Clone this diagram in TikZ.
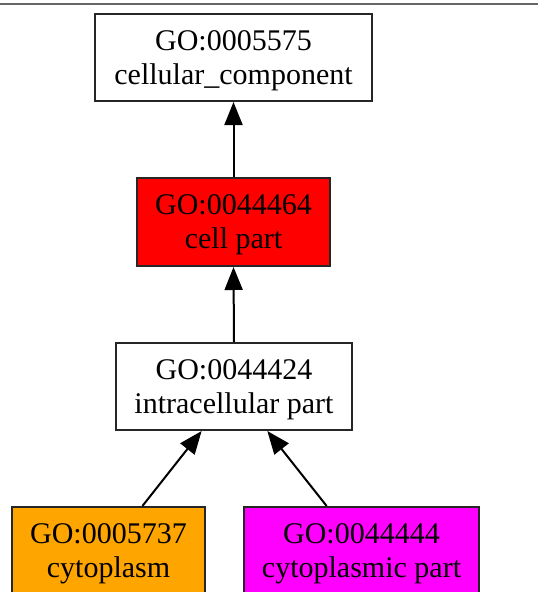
\documentclass[tikz,border=0pt]{standalone}
\usepackage{fontspec}
\setmainfont{Liberation Serif}
\usetikzlibrary{arrows.meta,calc}
\definecolor{goorange}{HTML}{FFA500}
\definecolor{gomagenta}{HTML}{FF00FF}
\definecolor{gored}{HTML}{FF0000}
\newcommand{\gostrut}{\rule{0pt}{26pt}}
\begin{document}
\begin{tikzpicture}[x=1pt,y=-1pt,
  gobox/.style={draw=black!85,line width=2pt,inner sep=0pt,align=center,
    font=\fontsize{30}{34}\selectfont},
  goarrow/.style={line width=2pt,-{Triangle[length=23pt,width=18pt]}}]
\useasboundingbox (0,0) rectangle (538,592);
\fill[white] (0,0) rectangle (538,592);
\coordinate (tl) at (0,4);
\coordinate (tr) at (538,4);
\draw[line width=2pt,black!60] (tl) -- (tr);
\node[gobox,minimum width=277pt,minimum height=87pt] (n1) at (233.5,57.5) {\gostrut GO:0005575\\cellular\_component};
\node[gobox,fill=gored,minimum width=193pt,minimum height=88pt] (n2) at (233.5,222) {\gostrut GO:0044464\\cell part};
\node[gobox,minimum width=236pt,minimum height=87pt] (n3) at (234,386.5) {\gostrut GO:0044424\\intracellular part};
\node[gobox,fill=goorange,minimum width=193pt,minimum height=88pt] (n4) at (108.5,551) {\gostrut GO:0005737\\cytoplasm};
\node[gobox,fill=gomagenta,minimum width=235pt,minimum height=88pt] (n5) at (361.5,551) {\gostrut GO:0044444\\cytoplasmic part};
\draw[goarrow] (n2.north) -- (n1.south);
\draw[goarrow] (n3.north) -- (n2.south);
\draw[goarrow] ($(n4.north west)!0.674!(n4.north east)$) -- ($(n3.south west)!0.364!(n3.south east)$);
\draw[goarrow] ($(n5.north west)!0.353!(n5.north east)$) -- ($(n3.south west)!0.64!(n3.south east)$);
\end{tikzpicture}
\end{document}
